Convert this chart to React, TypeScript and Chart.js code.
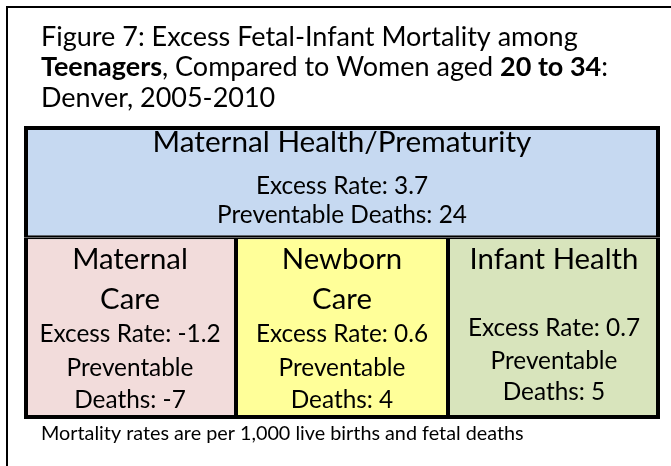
import { useEffect, useRef } from "react";
import { Chart, registerables } from "chart.js";

Chart.register(...registerables);

const FONT = "Lato, 'Open Sans', sans-serif";

// ---- Text content ----
const titleLines = [
  [{ text: "Figure 7: Excess Fetal-Infant Mortality among", bold: false }],
  [
    { text: "Teenagers", bold: true },
    { text: ", Compared to Women aged ", bold: false },
    { text: "20 to 34", bold: true },
    { text: ":", bold: false },
  ],
  [{ text: "Denver, 2005-2010", bold: false }],
];
const footnote = "Mortality rates are per 1,000 live births and fetal deaths";

// ---- Data ----
const topCategories = ["Maternal Health/Prematurity"];
const topExcessRates = [3.7];
const topPreventableDeaths = [24];

const bottomCategories = ["Maternal Care", "Newborn Care", "Infant Health"];
const bottomHeadingLines = [["Maternal", "Care"], ["Newborn", "Care"], ["Infant Health"]];
const bottomExcessRates = [-1.2, 0.6, 0.7];
const bottomPreventableDeaths = [-7, 4, 5];

// ---- Styles ----
const topColors = ["#C6D9F1"];
const bottomColors = ["#F2DCDB", "#FFFF99", "#D8E4BC"];
const ROW_SPLIT = 0.62;

const fmt = (v: number) => v.toFixed(1);

function fitSize(ctx: CanvasRenderingContext2D, text: string, width: number, weight = "normal") {
  ctx.font = `${weight} 100px ${FONT}`;
  return (100 * width) / ctx.measureText(text).width;
}

const textPlugin = {
  id: "boxText",
  afterDatasetsDraw(chart: any) {
    const ctx: CanvasRenderingContext2D = chart.ctx;
    ctx.save();
    ctx.fillStyle = "#000";
    ctx.textBaseline = "alphabetic";
    ctx.textAlign = "center";

    const detailSize = fitSize(ctx, "Preventable Deaths: 24", 250);

    // Top box
    const topMeta = chart.getDatasetMeta(0);
    topMeta.data.forEach((el: any, i: number) => {
      const headSize = fitSize(ctx, topCategories[i], 379);
      ctx.font = `normal ${headSize}px ${FONT}`;
      ctx.fillText(topCategories[i], el.x, el.y + 26);
      ctx.font = `normal ${detailSize}px ${FONT}`;
      ctx.fillText(`Excess Rate: ${fmt(topExcessRates[i])}`, el.x, el.y + 68);
      ctx.fillText(`Preventable Deaths: ${topPreventableDeaths[i]}`, el.x, el.y + 97);
    });

    // Bottom boxes
    const botHeadSize = fitSize(ctx, "Infant Health", 169);
    const botMeta = chart.getDatasetMeta(1);
    botMeta.data.forEach((el: any, i: number) => {
      const heads = bottomHeadingLines[i];
      const headOffsets = heads.length > 1 ? [32, 72] : [32];
      const detailOffsets = heads.length > 1 ? [105, 139, 171] : [99, 132, 163];
      ctx.font = `normal ${botHeadSize}px ${FONT}`;
      heads.forEach((h, k) => ctx.fillText(h, el.x, el.y + headOffsets[k]));
      ctx.font = `normal ${detailSize}px ${FONT}`;
      const lines = [
        `Excess Rate: ${fmt(bottomExcessRates[i])}`,
        "Preventable",
        `Deaths: ${bottomPreventableDeaths[i]}`,
      ];
      lines.forEach((l, k) => ctx.fillText(l, el.x, el.y + detailOffsets[k]));
    });
    ctx.restore();
  },
  afterDraw(chart: any) {
    const ctx: CanvasRenderingContext2D = chart.ctx;
    ctx.save();
    // outer frame
    ctx.strokeStyle = "#000";
    ctx.lineWidth = 2;
    ctx.strokeRect(7, 7, 720, 520);

    // title
    ctx.fillStyle = "#000";
    ctx.textAlign = "left";
    ctx.textBaseline = "alphabetic";
    const titleSize = fitSize(ctx, titleLines[0][0].text, 537);
    const baselines = [46, 76, 107];
    titleLines.forEach((segs, li) => {
      let x = 41;
      segs.forEach((s) => {
        ctx.font = `${s.bold ? "bold" : "normal"} ${titleSize}px ${FONT}`;
        ctx.fillText(s.text, x, baselines[li]);
        x += ctx.measureText(s.text).width;
      });
    });

    // footnote
    const fnSize = fitSize(ctx, footnote, 483);
    ctx.font = `normal ${fnSize}px ${FONT}`;
    ctx.fillText(footnote, 41, 440);
    ctx.restore();
  },
};

export default function App() {
  const canvasRef = useRef<HTMLCanvasElement | null>(null);

  useEffect(() => {
    if (!canvasRef.current) return;
    const chart = new Chart(canvasRef.current, {
      type: "bar",
      data: {
        datasets: [
          {
            label: topCategories[0],
            xAxisID: "xTop",
            grouped: false,
            data: topCategories.map((c) => ({ x: c, y: [ROW_SPLIT, 1] })) as any,
            backgroundColor: topColors,
            borderColor: "#000",
            borderWidth: { left: 4, right: 4, top: 4, bottom: 2 } as any,
            borderSkipped: false,
            barPercentage: 1,
            categoryPercentage: 1,
            inflateAmount: 0,
          } as any,
          {
            label: "Bottom row",
            xAxisID: "x",
            grouped: false,
            data: bottomCategories.map((c) => ({ x: c, y: [0, ROW_SPLIT] })) as any,
            backgroundColor: bottomColors,
            borderColor: "#000",
            borderWidth: ((c: any) => ({
              left: c.dataIndex === 0 ? 4 : 2,
              right: c.dataIndex === bottomCategories.length - 1 ? 4 : 2,
              top: 2,
              bottom: 4,
            })) as any,
            borderSkipped: false,
            barPercentage: 1,
            categoryPercentage: 1,
            inflateAmount: 0,
          } as any,
        ],
      },
      options: {
        responsive: false,
        animation: false,
        layout: { padding: { left: 24, top: 126, right: 11, bottom: 47 } },
        plugins: {
          legend: { display: false },
          tooltip: { enabled: false },
          title: { display: false },
        },
        scales: {
          x: { type: "category", labels: bottomCategories, display: false, offset: true },
          xTop: { type: "category", labels: topCategories, display: false, offset: true },
          y: { type: "linear", min: 0, max: 1, display: false },
        },
      },
      plugins: [textPlugin],
    });
    return () => chart.destroy();
  }, []);

  return (
    <div style={{ position: "fixed", left: 0, top: 0, width: 671, height: 466, background: "#fff" }}>
      <canvas ref={canvasRef} width={671} height={466} style={{ display: "block" }} />
    </div>
  );
}
